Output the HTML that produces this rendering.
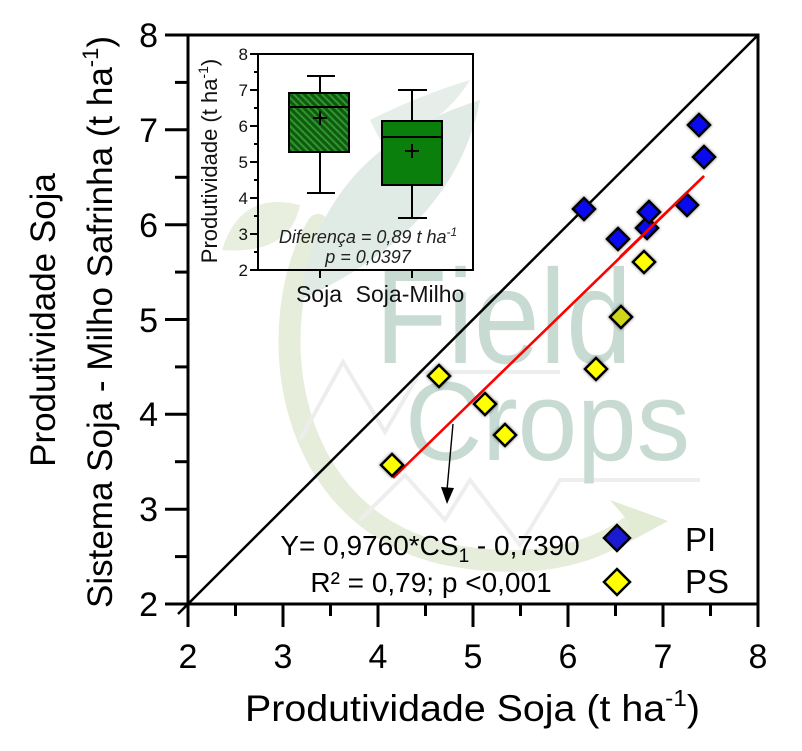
<!DOCTYPE html>
<html>
<head>
<meta charset="utf-8">
<style>
  html,body{margin:0;padding:0;background:#fff;}
  svg{display:block;}
  text{font-family:"Liberation Sans", Arial, sans-serif;}
</style>
</head>
<body>
<svg width="802" height="751" viewBox="0 0 802 751" xmlns="http://www.w3.org/2000/svg">
  <defs>
    <pattern id="hatch" patternUnits="userSpaceOnUse" width="5" height="5" patternTransform="rotate(-45)">
      <rect width="5" height="5" fill="#0f5a0f"/>
      <line x1="1" y1="0" x2="1" y2="5" stroke="#2f962f" stroke-width="2"/>
    </pattern>
    <filter id="blur" x="-50%" y="-50%" width="200%" height="200%">
      <feGaussianBlur stdDeviation="1.6"/>
    </filter>
  </defs>
  <rect width="802" height="751" fill="#fff"/>

  <!-- watermark -->
  <g opacity="0.9">
    <path d="M 318 225 C 262 320, 280 520, 450 555 C 530 570, 590 555, 628 528" fill="none" stroke="#e4ecd6" stroke-width="22" stroke-linecap="round"/>
    <polygon points="610,500 668,521 618,548 630,523" fill="#dfe9d0"/>
    <path d="M 300 300 Q 320 150 480 100 Q 455 230 300 300 Z" fill="#dde9e3"/>
    <path d="M 222 250 Q 240 190 300 205 Q 290 255 222 250 Z" fill="#e6eedb"/>
    <path d="M 370 120 Q 420 95 470 80 Q 440 130 380 140 Z" fill="#e3ede7"/>
    <polyline points="300,440 343,362 385,432 420,372 560,372" fill="none" stroke="#ececec" stroke-width="4"/>
    <polyline points="360,520 405,475 445,520 470,480 520,545 560,480 700,480" fill="none" stroke="#ededed" stroke-width="4"/>
    <text x="375" y="363" font-size="134" fill="#c3d8cf" textLength="257" lengthAdjust="spacingAndGlyphs">Field</text>
    <text x="405" y="460" font-size="112" fill="#c3d8cf" textLength="285" lengthAdjust="spacingAndGlyphs">Crops</text>
  </g>

  <!-- 1:1 line -->
  <line x1="178" y1="614" x2="758" y2="35" stroke="#000" stroke-width="2.5"/>

  <!-- axes frame -->
  <rect x="188" y="35" width="570" height="569" fill="none" stroke="#000" stroke-width="3"/>

  <!-- y ticks -->
  <g stroke="#000" stroke-width="3">
    <line x1="165" y1="604" x2="188" y2="604"/>
    <line x1="175" y1="556.6" x2="188" y2="556.6"/>
    <line x1="165" y1="509.2" x2="188" y2="509.2"/>
    <line x1="175" y1="461.7" x2="188" y2="461.7"/>
    <line x1="165" y1="414.3" x2="188" y2="414.3"/>
    <line x1="175" y1="366.9" x2="188" y2="366.9"/>
    <line x1="165" y1="319.5" x2="188" y2="319.5"/>
    <line x1="175" y1="272.1" x2="188" y2="272.1"/>
    <line x1="165" y1="224.7" x2="188" y2="224.7"/>
    <line x1="175" y1="177.3" x2="188" y2="177.3"/>
    <line x1="165" y1="129.8" x2="188" y2="129.8"/>
    <line x1="175" y1="82.4" x2="188" y2="82.4"/>
    <line x1="165" y1="35" x2="188" y2="35"/>
  </g>
  <!-- x ticks -->
  <g stroke="#000" stroke-width="3">
    <line x1="188" y1="604" x2="188" y2="627"/>
    <line x1="235.5" y1="604" x2="235.5" y2="616"/>
    <line x1="283" y1="604" x2="283" y2="627"/>
    <line x1="330.5" y1="604" x2="330.5" y2="616"/>
    <line x1="378" y1="604" x2="378" y2="627"/>
    <line x1="425.5" y1="604" x2="425.5" y2="616"/>
    <line x1="473" y1="604" x2="473" y2="627"/>
    <line x1="520.5" y1="604" x2="520.5" y2="616"/>
    <line x1="568" y1="604" x2="568" y2="627"/>
    <line x1="615.5" y1="604" x2="615.5" y2="616"/>
    <line x1="663" y1="604" x2="663" y2="627"/>
    <line x1="710.5" y1="604" x2="710.5" y2="616"/>
    <line x1="758" y1="604" x2="758" y2="627"/>
  </g>

  <!-- y tick labels -->
  <g font-size="34" text-anchor="end" fill="#000">
    <text x="158" y="616">2</text>
    <text x="158" y="521">3</text>
    <text x="158" y="426">4</text>
    <text x="158" y="332">5</text>
    <text x="158" y="237">6</text>
    <text x="158" y="142">7</text>
    <text x="158" y="47">8</text>
  </g>
  <!-- x tick labels -->
  <g font-size="34" text-anchor="middle" fill="#000">
    <text x="188" y="668">2</text>
    <text x="283" y="668">3</text>
    <text x="378" y="668">4</text>
    <text x="473" y="668">5</text>
    <text x="568" y="668">6</text>
    <text x="663" y="668">7</text>
    <text x="758" y="668">8</text>
  </g>

  <!-- axis titles -->
  <text x="245" y="721" font-size="37" fill="#000" textLength="455" lengthAdjust="spacingAndGlyphs">Produtividade Soja (t ha<tspan dy="-15" font-size="23">-1</tspan><tspan dy="15">)</tspan></text>
  <text transform="translate(55,320) rotate(-90)" font-size="35" text-anchor="middle" fill="#000">Produtividade Soja</text>
  <text transform="translate(112,322) rotate(-90)" font-size="35" text-anchor="middle" fill="#000">Sistema Soja - Milho Safrinha (t ha<tspan dy="-14" font-size="22">-1</tspan><tspan dy="14">)</tspan></text>

  <!-- inset -->
  <g>
    <rect x="258" y="54" width="215" height="216" fill="none" stroke="#000" stroke-width="2"/>
    <g stroke="#000" stroke-width="2">
      <line x1="250" y1="54" x2="258" y2="54"/>
      <line x1="254" y1="72" x2="258" y2="72"/>
      <line x1="250" y1="90" x2="258" y2="90"/>
      <line x1="254" y1="108" x2="258" y2="108"/>
      <line x1="250" y1="126" x2="258" y2="126"/>
      <line x1="254" y1="144" x2="258" y2="144"/>
      <line x1="250" y1="162" x2="258" y2="162"/>
      <line x1="254" y1="180" x2="258" y2="180"/>
      <line x1="250" y1="198" x2="258" y2="198"/>
      <line x1="254" y1="216" x2="258" y2="216"/>
      <line x1="250" y1="234" x2="258" y2="234"/>
      <line x1="254" y1="252" x2="258" y2="252"/>
      <line x1="250" y1="270" x2="258" y2="270"/>
      <line x1="320" y1="270" x2="320" y2="278"/>
      <line x1="412" y1="270" x2="412" y2="278"/>
    </g>
    <g font-size="17" text-anchor="end" fill="#111">
      <text x="248" y="60">8</text>
      <text x="248" y="96">7</text>
      <text x="248" y="132">6</text>
      <text x="248" y="168">5</text>
      <text x="248" y="204">4</text>
      <text x="248" y="240">3</text>
      <text x="248" y="276">2</text>
    </g>
    <text transform="translate(217,161) rotate(-90)" font-size="22" text-anchor="middle" fill="#111">Produtividade (t ha<tspan dy="-9" font-size="14">-1</tspan><tspan dy="9">)</tspan></text>
    <text x="319" y="302" font-size="23" text-anchor="middle" fill="#111">Soja</text>
    <text x="410" y="302" font-size="23" text-anchor="middle" fill="#111">Soja-Milho</text>

    <!-- Soja box -->
    <g stroke="#000" stroke-width="2" fill="none">
      <line x1="320" y1="76" x2="320" y2="93"/>
      <line x1="320" y1="152" x2="320" y2="193"/>
      <line x1="307" y1="76" x2="335" y2="76"/>
      <line x1="307" y1="193" x2="335" y2="193"/>
    </g>
    <rect x="289" y="93" width="60" height="59" fill="url(#hatch)" stroke="#000" stroke-width="2"/>
    <line x1="289" y1="107" x2="349" y2="107" stroke="#000" stroke-width="2"/>
    <g stroke="#000" stroke-width="2">
      <line x1="313" y1="118" x2="327" y2="118"/>
      <line x1="320" y1="111" x2="320" y2="125"/>
    </g>

    <!-- Soja-Milho box -->
    <g stroke="#000" stroke-width="2" fill="none">
      <line x1="412" y1="90" x2="412" y2="121"/>
      <line x1="412" y1="185" x2="412" y2="218"/>
      <line x1="398" y1="90" x2="427" y2="90"/>
      <line x1="398" y1="218" x2="427" y2="218"/>
    </g>
    <rect x="382" y="121" width="60" height="64" fill="#0b7f0b" stroke="#000" stroke-width="2"/>
    <line x1="382" y1="137" x2="442" y2="137" stroke="#000" stroke-width="2"/>
    <g stroke="#000" stroke-width="2">
      <line x1="405" y1="151" x2="419" y2="151"/>
      <line x1="412" y1="144" x2="412" y2="158"/>
    </g>

    <text x="368" y="243" font-size="18" font-style="italic" text-anchor="middle" fill="#222">Diferença = 0,89 t ha<tspan dy="-7" font-size="12">-1</tspan></text>
    <text x="368" y="263" font-size="18" font-style="italic" text-anchor="middle" fill="#222">p = 0,0397</text>
  </g>

  <!-- regression line -->
  <line x1="393" y1="478" x2="704" y2="176" stroke="#ff0000" stroke-width="2.6"/>

  <!-- arrow -->
  <line x1="453" y1="424" x2="447" y2="490" stroke="#000" stroke-width="1.4"/>
  <polygon points="441,487 454,488 447,504" fill="#000"/>

  <!-- data points: halos -->
  <g fill="#000" opacity="0.45" filter="url(#blur)">
    <polygon points="699,112 712,125 699,138 686,125"/>
    <polygon points="704,144 717,157 704,170 691,157"/>
    <polygon points="584,196 597,209 584,222 571,209"/>
    <polygon points="649,199 662,212 649,225 636,212"/>
    <polygon points="687,192 700,205 687,218 674,205"/>
    <polygon points="647,215 660,228 647,241 634,228"/>
    <polygon points="618,226 631,239 618,252 605,239"/>
    <polygon points="644,249 657,262 644,275 631,262"/>
    <polygon points="621,304 634,317 621,330 608,317"/>
    <polygon points="596,356 609,369 596,382 583,369"/>
    <polygon points="439,363 452,376 439,389 426,376"/>
    <polygon points="485,391 498,404 485,417 472,404"/>
    <polygon points="505,422 518,435 505,448 492,435"/>
    <polygon points="392,452 405,465 392,478 379,465"/>
  </g>
  <!-- blue PI -->
  <g fill="#0a0aee" stroke="#000" stroke-width="2.5" stroke-linejoin="miter">
    <polygon points="647,217 658,228 647,239 636,228"/>
    <polygon points="699,114 710,125 699,136 688,125"/>
    <polygon points="704,146 715,157 704,168 693,157"/>
    <polygon points="584,198 595,209 584,220 573,209"/>
    <polygon points="687,194 698,205 687,216 676,205"/>
    <polygon points="618,228 629,239 618,250 607,239"/>
    <polygon points="649,201 660,212 649,223 638,212"/>
  </g>
  <!-- yellow PS -->
  <g fill="#ffff00" stroke="#000" stroke-width="2.5">
    <polygon points="644,251 655,262 644,273 633,262"/>
    <polygon points="621,306 632,317 621,328 610,317" fill="#cfd61a"/>
    <polygon points="596,358 607,369 596,380 585,369"/>
    <polygon points="439,365 450,376 439,387 428,376"/>
    <polygon points="485,393 496,404 485,415 474,404"/>
    <polygon points="505,424 516,435 505,446 494,435"/>
    <polygon points="392,454 403,465 392,476 381,465"/>
  </g>
  <!-- re-draw red line over the markers near it -->
  <line x1="620" y1="257" x2="704" y2="176" stroke="#ff0000" stroke-width="2.6"/>

  <!-- equation -->
  <text x="430" y="555" font-size="28" text-anchor="middle" fill="#000">Y= 0,9760*CS<tspan dy="7" font-size="19">1</tspan><tspan dy="-7"> - 0,7390</tspan></text>
  <text x="431" y="592" font-size="28" text-anchor="middle" fill="#000">R² = 0,79; p &lt;0,001</text>

  <!-- legend -->
  <polygon points="617,525 630,538 617,551 604,538" fill="#1a1ad0" stroke="#000" stroke-width="2.5"/>
  <polygon points="617,569 630,582 617,595 604,582" fill="#ffff00" stroke="#000" stroke-width="2.5"/>
  <text x="685" y="551" font-size="33" fill="#000">PI</text>
  <text x="685" y="593" font-size="33" fill="#000">PS</text>
</svg>
</body>
</html>
